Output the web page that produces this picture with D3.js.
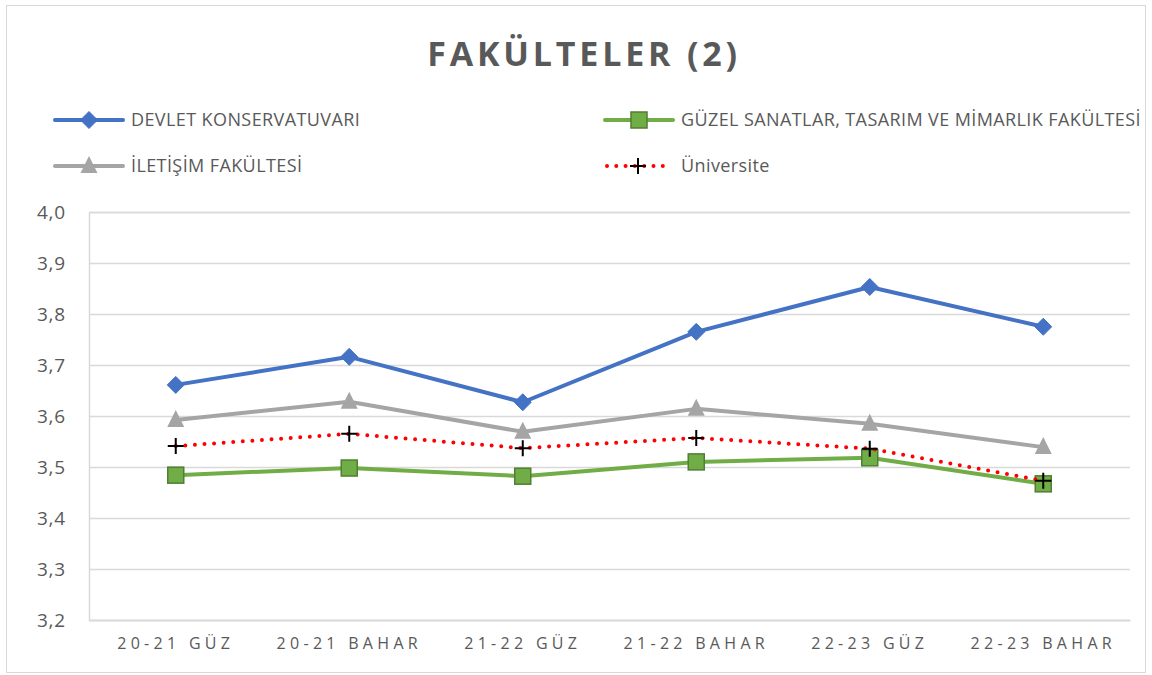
<!DOCTYPE html>
<html><head><meta charset="utf-8">
<script src="https://cdn.jsdelivr.net/npm/d3@7"></script>
<style>body{margin:0;background:#fff}svg{display:block}</style>
</head><body>
<svg id="chart" width="1152" height="675"></svg>
<script>
const categories = ["20-21 GÜZ","20-21 BAHAR","21-22 GÜZ","21-22 BAHAR","22-23 GÜZ","22-23 BAHAR"];
const devlet = [3.661,3.716,3.627,3.765,3.853,3.775];
const guzel = [3.484,3.498,3.482,3.510,3.518,3.467];
const iletisim = [3.592,3.628,3.569,3.614,3.585,3.539];
const universite = [3.541,3.565,3.537,3.557,3.536,3.473];
const yTicks = [3.2,3.3,3.4,3.5,3.6,3.7,3.8,3.9,4.0];
const title = "FAKÜLTELER (2)";

const series = [
  {name:"DEVLET KONSERVATUVARI", values:devlet, color:"#4472C4", marker:"diamond"},
  {name:"GÜZEL SANATLAR, TASARIM VE MİMARLIK FAKÜLTESİ", values:guzel, color:"#70AD47", marker:"square"},
  {name:"İLETİŞİM FAKÜLTESİ", values:iletisim, color:"#A5A5A5", marker:"triangle"},
  {name:"Üniversite", values:universite, color:"#FF0000", marker:"plus"}
];

const svg = d3.select("#chart");
const font = "'Open Sans', sans-serif";
const txt = "#595959";

svg.append("rect").attr("x",6.5).attr("y",5.5).attr("width",1139).attr("height",667)
  .attr("fill","#fff").attr("stroke","#d9d9d9").attr("stroke-width",1);

const L=89, R=1130, T=212, B=620;
const x = d3.scaleBand().domain(categories).range([L,R]);
const y = d3.scaleLinear().domain([3.2,4.0]).range([B,T]);

svg.append("text").attr("x",584).attr("y",66).attr("text-anchor","middle")
  .attr("font-family",font).attr("font-weight","bold").attr("font-size",34)
  .attr("letter-spacing","3.8px").attr("fill",txt).text(title);

// grid
const yAxis = d3.axisLeft(y).tickValues(yTicks).tickSize(-(R-L)).tickPadding(23)
  .tickFormat(d=>d3.format(".1f")(d).replace(".",","));
const gy = svg.append("g").attr("transform",`translate(${L},0)`).call(yAxis);
gy.select(".domain").attr("stroke","#d9d9d9").attr("stroke-width",1.5);
gy.selectAll(".tick line").attr("stroke","#d9d9d9").attr("stroke-width",1.5);
gy.selectAll(".tick text").attr("font-family",font).attr("font-size",19).attr("fill",txt)
  .attr("letter-spacing","0.8px");

const xAxis = d3.axisBottom(x).tickSize(0).tickPadding(18);
const gx = svg.append("g").attr("transform",`translate(0,${B})`).call(xAxis);
gx.select(".domain").attr("stroke","#d9d9d9").attr("stroke-width",1.5);
gx.selectAll(".tick text").attr("font-family",font).attr("font-size",16).attr("fill",txt)
  .attr("letter-spacing","4.3px").attr("dx","0px");

function drawMarker(g, type, cx, cy){
  if(type==="diamond"){
    g.append("path").attr("d",`M${cx},${cy-8.5}L${cx+8.5},${cy}L${cx},${cy+8.5}L${cx-8.5},${cy}Z`)
      .attr("fill","#4472C4").attr("stroke","#4472C4").attr("stroke-width",1);
  } else if(type==="square"){
    g.append("rect").attr("x",cx-8).attr("y",cy-8).attr("width",16).attr("height",16)
      .attr("fill","#70AD47").attr("stroke","#507E32").attr("stroke-width",1.5);
  } else if(type==="triangle"){
    g.append("path").attr("d",`M${cx},${cy-10}L${cx+8.5},${cy+7}L${cx-8.5},${cy+7}Z`)
      .attr("fill","#A5A5A5");
  } else if(type==="plus"){
    g.append("path").attr("d",`M${cx-8},${cy}H${cx+8}M${cx},${cy-8}V${cy+8}`)
      .attr("stroke","#000").attr("stroke-width",2).attr("fill","none");
  }
}

const line = d3.line().x((d,i)=>x(categories[i])+x.bandwidth()/2).y(d=>y(d));
[1,2,3,0].forEach(k=>{
  const s = series[k];
  const g = svg.append("g");
  const p = g.append("path").attr("d",line(s.values)).attr("fill","none")
    .attr("stroke",s.color).attr("stroke-linejoin","round");
  if(s.marker==="plus"){
    p.attr("stroke-width",4).attr("stroke-linecap","round").attr("stroke-dasharray","0,9.6");
  } else {
    p.attr("stroke-width",4).attr("stroke-linecap","round");
  }
  s.values.forEach((v,i)=>drawMarker(g,s.marker,x(categories[i])+x.bandwidth()/2,y(v)));
});

// legend
const legPos = [[55,120],[605,120],[55,166],[605,166]];
series.forEach((s,k)=>{
  const [lx,ly] = legPos[k];
  const g = svg.append("g");
  const p = g.append("line").attr("x1",lx).attr("x2",lx+68).attr("y1",ly).attr("y2",ly)
    .attr("stroke",s.color);
  if(s.marker==="plus"){
    p.attr("x1",lx+2).attr("x2",lx+58).attr("stroke-width",4).attr("stroke-linecap","round").attr("stroke-dasharray","0,9.3");
    drawMarker(g,"plus",lx+33,ly);
  } else {
    p.attr("stroke-width",4).attr("stroke-linecap","round");
    drawMarker(g,s.marker,lx+34,ly);
  }
  g.append("text").attr("x",lx+76).attr("y",ly+6).attr("font-family",font)
    .attr("font-size",18).attr("letter-spacing","0.4px").attr("fill",txt).text(s.name);
});
</script>
</body></html>
